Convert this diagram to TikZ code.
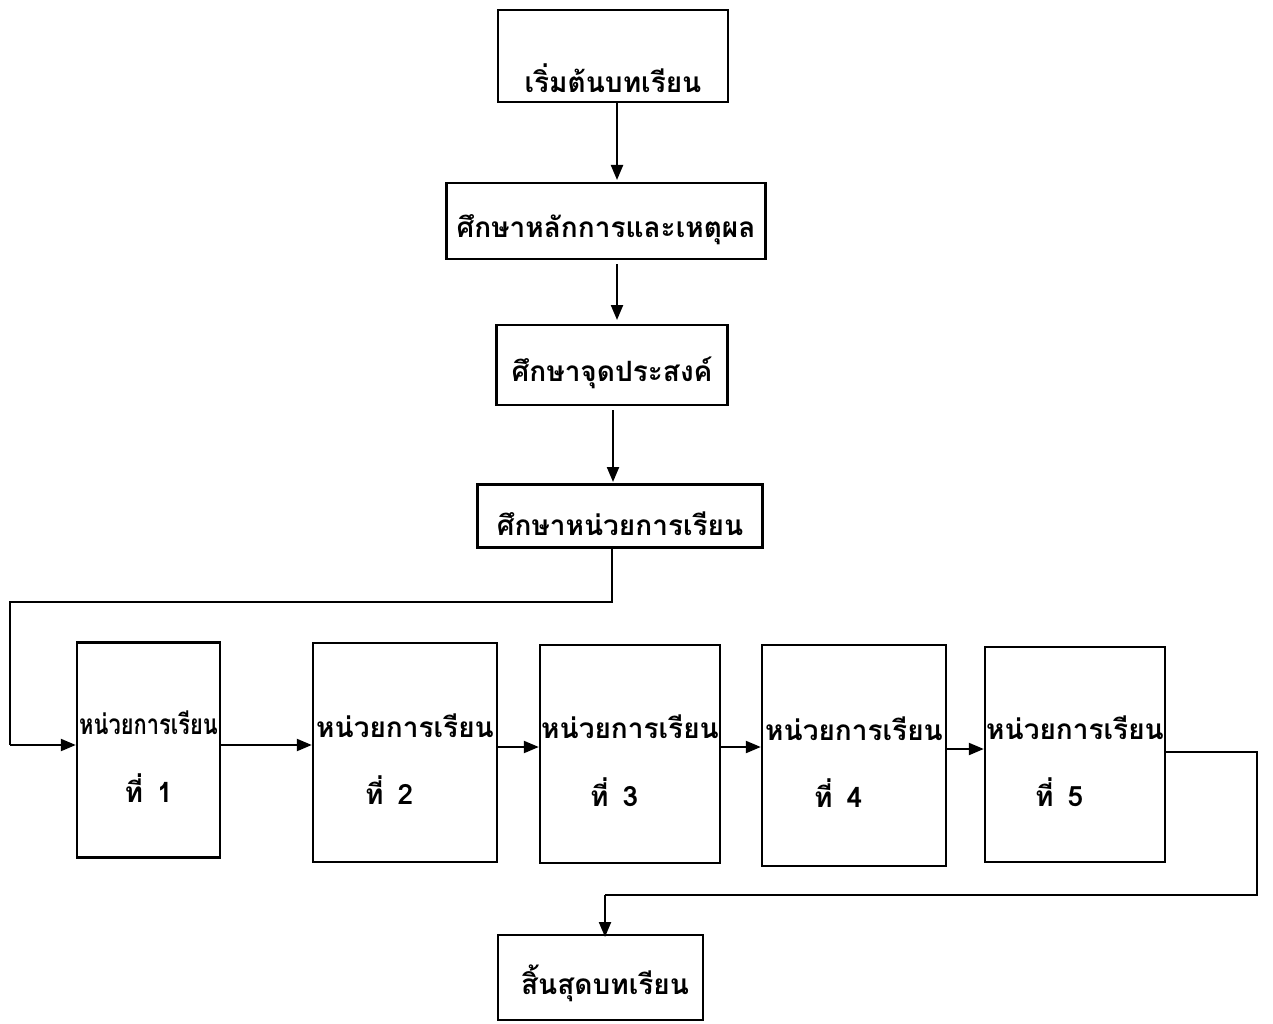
\documentclass[tikz,border=0pt]{standalone}
\usepackage{fontspec}
\newfontfamily\thaifont[Script=Thai]{Loma}
\usetikzlibrary{arrows.meta}
\begin{document}
\begin{tikzpicture}[x=1pt,y=-1pt,
  box/.style={draw,line width=2.4pt,inner sep=0pt},
  lbl/.style={font=\thaifont\bfseries\fontsize{28}{32}\selectfont,inner sep=0pt},
  conn/.style={line width=2.2pt,-{Triangle[length=15pt,width=12pt]}},
  plain/.style={line width=2.2pt}]
\useasboundingbox (0,0) rectangle (1273,1024);
% top boxes
\node[box,minimum width=230,minimum height=92] (s) at (613,56) {};
\node[lbl] at (613,78) {เริ่มต้นบทเรียน};
\node[box,minimum width=319,minimum height=76] (p) at (606,221) {};
\node[lbl] at (606,230) {ศึกษาหลักการและเหตุผล};
\node[box,minimum width=231,minimum height=80] (o) at (612,365) {};
\node[lbl] at (612,373) {ศึกษาจุดประสงค์};
\node[box,minimum width=285,minimum height=63] (u) at (620,516) {};
\node[lbl] at (620,524) {ศึกษาหน่วยการเรียน};
\draw[conn] (617,102) -- (617,180);
\draw[conn] (617,264) -- (617,320);
\draw[conn] (613,410) -- (613,482);
% row
\node[box,minimum width=143,minimum height=215] (b1) at (148.5,750) {};
\node[box,minimum width=184,minimum height=219] (b2) at (405,752.5) {};
\node[box,minimum width=180,minimum height=218] (b3) at (630,754) {};
\node[box,minimum width=184,minimum height=221] (b4) at (854,755.5) {};
\node[box,minimum width=180,minimum height=215] (b5) at (1075,754.5) {};
\node[lbl,xscale=0.78] at ([yshift=27]b1.center) {หน่วยการเรียน};
\foreach \b in {b2,b3,b4,b5}{
  \node[lbl] at ([yshift=27]\b.center) {หน่วยการเรียน};
}
\node[lbl,anchor=west] at ([xshift=-24,yshift=-38]b1.center) {ที่\hspace{14pt}1};
\foreach \b/\n in {b2/2,b3/3,b4/4,b5/5}{
  \node[lbl,anchor=west] at ([xshift=-40,yshift=-38]\b.center) {ที่\hspace{14pt}\n};
}
\draw[plain] (612,548) -- (612,602) -- (10,602) -- (10,745);
\draw[conn] (10,745) -- (b1.west |- 0,745);
\draw[conn] (b1.east |- 0,745) -- (b2.west |- 0,745);
\draw[conn] (b2.east |- 0,747) -- (b3.west |- 0,747);
\draw[conn] (b3.east |- 0,747) -- (b4.west |- 0,747);
\draw[conn] (b4.east |- 0,749) -- (b5.west |- 0,749);
% end
\node[box,minimum width=205,minimum height=85] (e) at (600.5,977.5) {};
\node[lbl] at (605,983) {สิ้นสุดบทเรียน};
\draw[plain] (b5.east |- 0,752) -- (1257,752) -- (1257,895) -- (605,895);
\draw[conn] (605,895) -- (605,937);
\end{tikzpicture}
\end{document}
